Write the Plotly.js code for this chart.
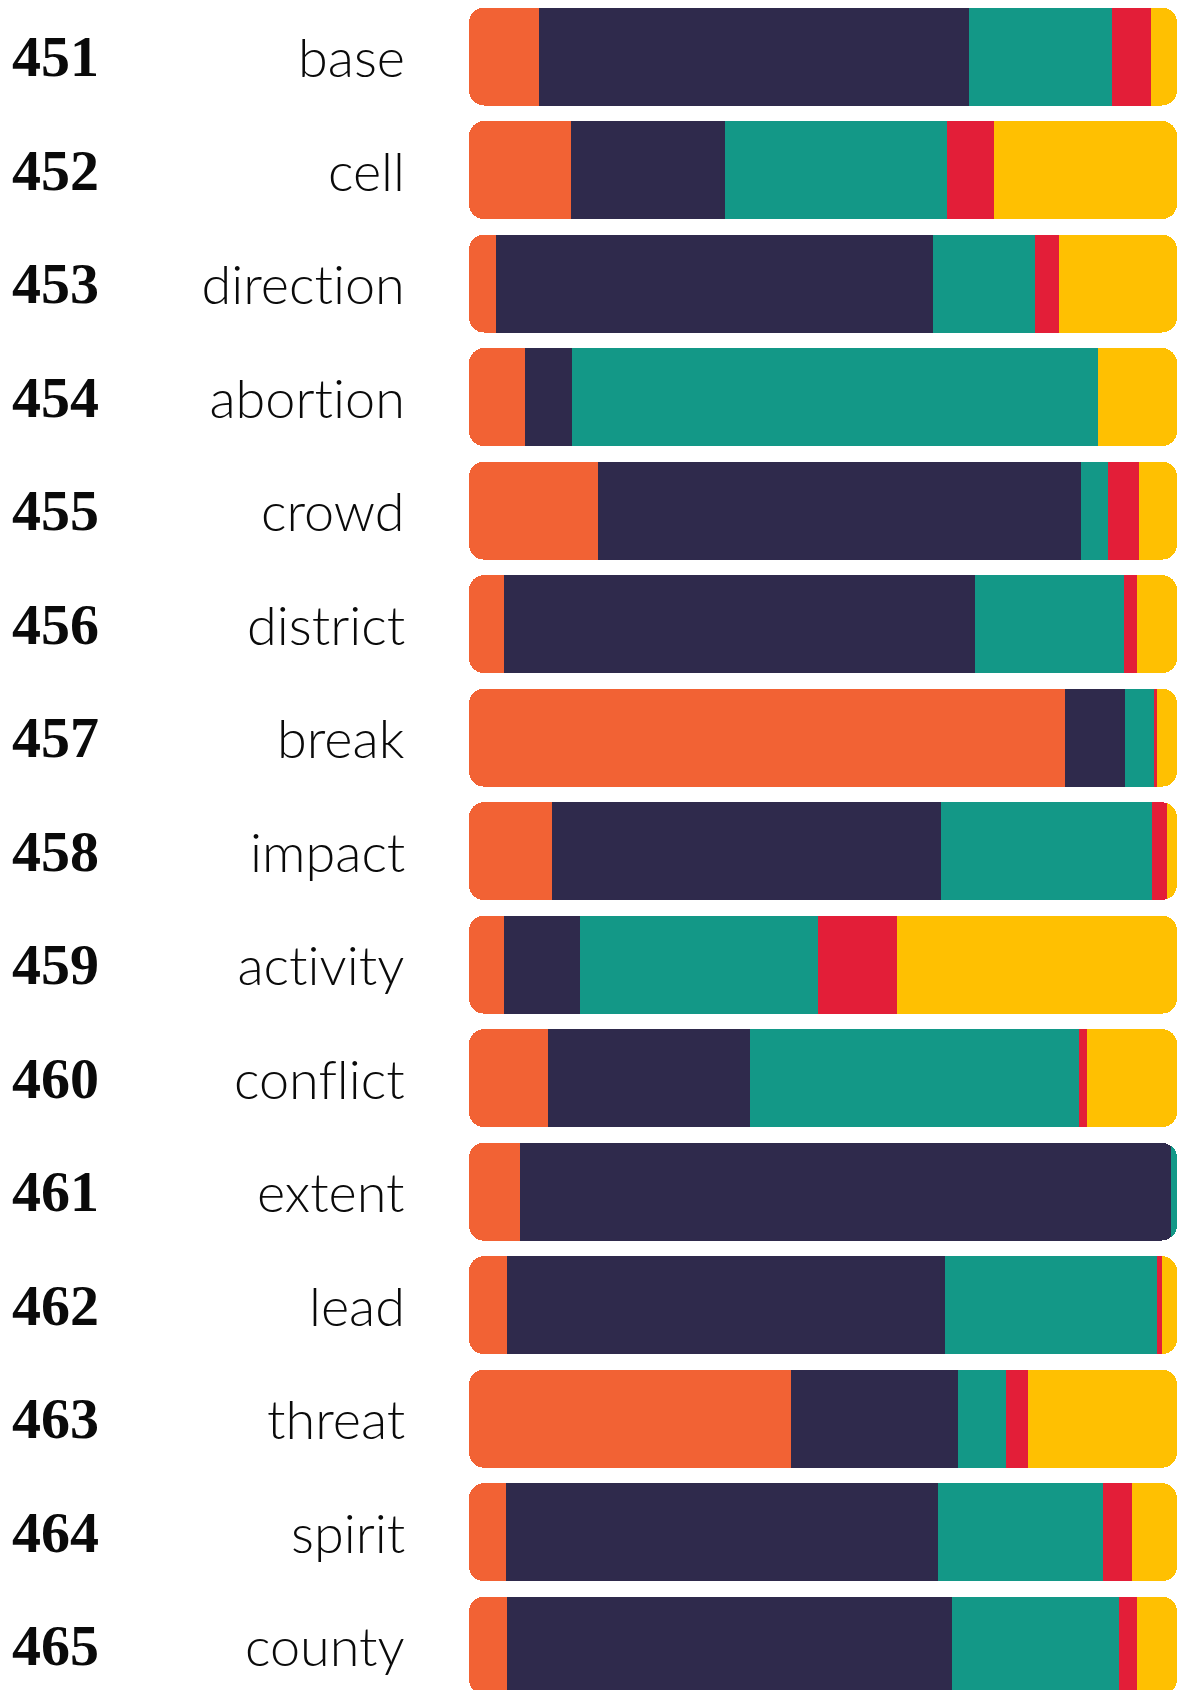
<!DOCTYPE html>
<html>
<head>
<meta charset="utf-8">
<script src="https://cdn.plot.ly/plotly-3.0.1.min.js"></script>
<style>
html, body { margin: 0; padding: 0; background: #ffffff; }
#chart { width: 1183px; height: 1690px; }
#chart svg text { font-variant-ligatures: none; font-feature-settings: "liga" 0, "clig" 0; }
</style>
</head>
<body>
<div id="chart"></div>
<script>
// Data (shares in %)
const ranks = ["451","452","453","454","455","456","457","458","459","460","461","462","463","464","465"];
const words = ["base","cell","direction","abortion","crowd","district","break","impact","activity","conflict","extent","lead","threat","spirit","county"];
const seriesOrange = [9.9, 14.4, 3.8, 7.9, 18.2, 5.0, 84.2, 11.7, 5.0, 11.2, 7.2, 5.3, 45.5, 5.2, 5.3];
const seriesDark   = [60.7, 21.7, 61.8, 6.6, 68.2, 66.4, 8.4, 55.0, 10.7, 28.5, 92.0, 61.9, 23.5, 61.1, 62.9];
const seriesTeal   = [20.2, 31.4, 14.4, 74.4, 3.9, 21.1, 4.2, 29.8, 33.6, 46.4, 0.8, 30.0, 6.8, 23.2, 23.6];
const seriesRed    = [5.5, 6.6, 3.4, 0.0, 4.4, 1.8, 0.4, 2.1, 11.1, 1.2, 0.0, 0.65, 3.2, 4.1, 2.5];
const seriesYellow = [3.7, 25.9, 16.6, 11.1, 5.3, 5.7, 2.8, 1.4, 39.6, 12.7, 0.0, 2.15, 21.0, 6.4, 5.7];

const colors = {orange: "#F26234", dark: "#2F2A4C", teal: "#139887", red: "#E31E38", yellow: "#FFC001"};

const idx = ranks.map((_, i) => i);
const rowTotal = idx.map(i => seriesOrange[i] + seriesDark[i] + seriesTeal[i] + seriesRed[i] + seriesYellow[i]);

function bar(vals, color, name, xaxis, hover) {
  return {
    type: "bar", orientation: "h", name: name, xaxis: xaxis, yaxis: "y",
    y: idx, x: vals,
    marker: {color: color, line: {width: 0}},
    hoverinfo: hover || "x+name"
  };
}

const clear = "rgba(0,0,0,0)";
const traces = [
  // main stack on x: invisible spacer the width of the orange part, then the rest (right end rounded)
  bar(seriesOrange, clear, "spacer", "x", "skip"),
  bar(seriesDark, colors.dark, "dark", "x"),
  bar(seriesTeal, colors.teal, "teal", "x"),
  bar(seriesRed, colors.red, "red", "x"),
  bar(seriesYellow, colors.yellow, "yellow", "x"),
  // orange on a reversed overlaying axis so its outer (left) end is the rounded one
  bar(idx.map(i => rowTotal[i] - seriesOrange[i]), clear, "spacer2", "x2", "skip"),
  bar(seriesOrange, colors.orange, "orange", "x2")
];

const L = 469, R = 6, W = 1183;
const plotW = W - L - R;
const annotations = [];
ranks.forEach((r, i) => {
  annotations.push({
    xref: "paper", yref: "y", x: (10 - L) / plotW, y: i,
    xanchor: "left", yanchor: "middle", showarrow: false,
    text: "<b>" + r + "</b>",
    font: {family: "Liberation Serif", size: 58, color: "#0a0a0a"}
  });
  annotations.push({
    xref: "paper", yref: "y", x: (407 - L) / plotW, y: i,
    xanchor: "right", yanchor: "middle", showarrow: false,
    text: words[i],
    font: {family: "Lato", size: 54, weight: 300, color: "#0a0a0a"}
  });
});

const axisCommon = {showgrid: false, zeroline: false, showticklabels: false, showline: false, fixedrange: true};
const layout = {
  width: 1183, height: 1690,
  margin: {l: L, r: R, t: 0, b: 0, pad: 0},
  paper_bgcolor: "#ffffff", plot_bgcolor: "#ffffff",
  barmode: "stack", bargap: 0.137,
  barcornerradius: 15,
  showlegend: false,
  xaxis: Object.assign({range: [0, 100]}, axisCommon),
  xaxis2: Object.assign({range: [100, 0], overlaying: "x"}, axisCommon),
  yaxis: Object.assign({range: [14.39, -0.498]}, axisCommon),
  annotations: annotations
};

Plotly.newPlot("chart", traces, layout, {displayModeBar: false, staticPlot: true});
</script>
</body>
</html>
